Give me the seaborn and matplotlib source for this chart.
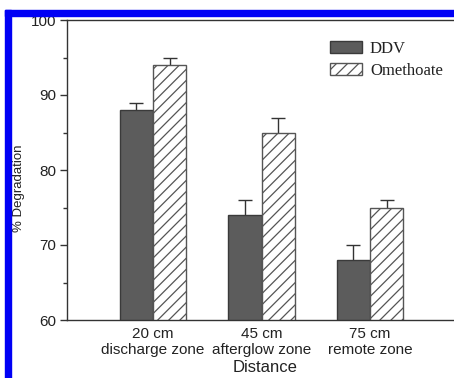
import matplotlib
matplotlib.use("Agg")
import matplotlib.pyplot as plt
import seaborn as sns
import pandas as pd
import numpy as np
from matplotlib.patches import Rectangle

categories = ["20 cm\ndischarge zone", "45 cm\nafterglow zone", "75 cm\nremote zone"]
series = ["DDV", "Omethoate"]
ddv = [88, 74, 68]
ddv_err = [1, 2, 2]
ome = [94, 85, 75]
ome_err = [1, 2, 1]
yticks = [60, 70, 80, 90, 100]
yminor = [65, 75, 85, 95]

sns.set_theme(style="ticks")
plt.rcParams['font.family'] = ['Liberation Sans', 'DejaVu Sans']
plt.rcParams['hatch.color'] = '#808080'
plt.rcParams['hatch.linewidth'] = 0.9

df = pd.DataFrame({
    "Distance": categories * 2,
    "Series": [series[0]] * 3 + [series[1]] * 3,
    "value": ddv + ome,
})

W, H = 454, 378
fig = plt.figure(figsize=(W / 100, H / 100), dpi=100)
fig.patch.set_facecolor("white")
ax = fig.add_axes([67 / W, 1 - 320 / H, 389 / W, 300 / H])

sns.barplot(data=df, x="Distance", y="value", hue="Series",
            palette=["#5c5c5c", "white"], width=0.61, ax=ax,
            errorbar=None, edgecolor="#3a3a3a", linewidth=1.0, saturation=1)

for bar in ax.containers[1]:
    bar.set_hatch("///")
    bar.set_edgecolor("#555555")

for cont, vals, errs in zip(ax.containers, [ddv, ome], [ddv_err, ome_err]):
    xs = [p.get_x() + p.get_width() / 2 for p in cont]
    ax.errorbar(xs, vals, yerr=errs, fmt="none", ecolor="#333333",
                elinewidth=1.0, capsize=4.7, capthick=1.0, zorder=0.9)

ax.set_ylim(60, 100)
ax.set_xlim(-0.793, 2.793)
ax.set_yticks(yticks)
ax.set_yticks(yminor, minor=True)
ax.tick_params(axis="y", which="major", length=5, width=1, direction="out",
               labelsize=11, pad=3, color="#333333", labelcolor="#222222")
ax.tick_params(axis="y", which="minor", length=3, width=1, direction="out",
               color="#333333")
ax.tick_params(axis="x", length=0, labelsize=11, pad=5, labelcolor="#222222")
for lab in ax.get_xticklabels():
    lab.set_linespacing(1.15)

for s in ["left", "bottom", "top", "right"]:
    ax.spines[s].set_color("#333333")
    ax.spines[s].set_linewidth(1.0)

ax.set_ylabel("% Degradation", fontsize=9.5, color="#222222")
ax.yaxis.set_label_coords(-0.108, 0.44)
ax.set_xlabel("Distance", fontsize=12, color="#222222")
ax.xaxis.set_label_coords(0.509, -0.135)

leg = ax.legend(ax.containers, series, loc="upper left",
                bbox_to_anchor=(330 / W, 1 - 41 / H),
                bbox_transform=fig.transFigure, frameon=False,
                prop={"family": "Liberation Serif", "size": 12},
                handlelength=1.92, handleheight=0.72, handletextpad=0.48,
                labelspacing=0.35, borderpad=0, borderaxespad=0)
for t in leg.get_texts():
    t.set_color("#222222")

blue = "#0000f5"
fig.add_artist(Rectangle((5 / W, 0), 6 / W, (H - 10) / H,
                         transform=fig.transFigure, color=blue, zorder=10))
fig.add_artist(Rectangle((5 / W, 1 - 16 / H), (W - 5) / W, 6 / H,
                         transform=fig.transFigure, color=blue, zorder=10))

fig.savefig("out.png", dpi=100)
